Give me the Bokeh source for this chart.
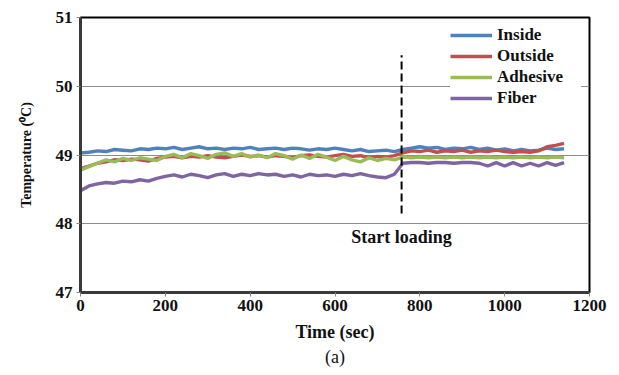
from bokeh.plotting import figure
from bokeh.models import Range1d, Legend, LegendItem, Label, Title, FixedTicker
from bokeh.embed import file_html
from bokeh.resources import INLINE

# ---- data ----
time_s = list(range(0, 1141, 20))

inside = [49.03, 49.04, 49.06, 49.05, 49.08, 49.07, 49.06, 49.09, 49.08, 49.10,
          49.09, 49.11, 49.08, 49.10, 49.12, 49.09, 49.10, 49.08, 49.10, 49.09,
          49.11, 49.08, 49.09, 49.10, 49.08, 49.10, 49.09, 49.07, 49.09, 49.08,
          49.10, 49.08, 49.06, 49.08, 49.05, 49.06, 49.07, 49.05, 49.08, 49.10,
          49.12, 49.10, 49.11, 49.08, 49.10, 49.09, 49.11, 49.08, 49.10, 49.07,
          49.09, 49.06, 49.08, 49.06, 49.07, 49.10, 49.08, 49.09]

outside = [48.80, 48.84, 48.88, 48.90, 48.93, 48.92, 48.94, 48.93, 48.91, 48.95,
           48.97, 48.98, 48.96, 48.98, 48.97, 48.99, 48.97, 48.96, 48.98, 49.00,
           48.98, 48.99, 48.97, 48.99, 48.98, 48.96, 48.99, 49.00, 48.98, 48.97,
           48.99, 49.01, 48.98, 48.99, 48.96, 48.98, 48.97, 48.99, 49.03, 49.06,
           49.05, 49.07, 49.04, 49.06, 49.05, 49.07, 49.04, 49.06, 49.05, 49.07,
           49.05, 49.04, 49.05, 49.04, 49.06, 49.12, 49.14, 49.17]

adhesive = [48.78, 48.83, 48.88, 48.93, 48.90, 48.95, 48.92, 48.96, 48.94, 48.92,
            48.98, 49.01, 48.96, 49.02, 48.99, 48.95, 49.01, 49.03, 48.98, 49.02,
            48.97, 49.00, 48.96, 49.02, 48.99, 48.94, 49.00, 48.95, 49.01, 48.97,
            48.92, 48.98, 48.93, 48.90, 48.96, 48.92, 48.95, 48.93, 48.97, 48.96,
            48.97, 48.96, 48.97, 48.96, 48.97, 48.96, 48.97, 48.96, 48.97, 48.96,
            48.97, 48.96, 48.97, 48.96, 48.97, 48.96, 48.97, 48.96]

fiber = [48.48, 48.55, 48.58, 48.60, 48.59, 48.62, 48.61, 48.64, 48.62, 48.66,
         48.69, 48.71, 48.68, 48.72, 48.70, 48.67, 48.71, 48.73, 48.69, 48.72,
         48.70, 48.73, 48.71, 48.72, 48.69, 48.71, 48.68, 48.72, 48.70, 48.71,
         48.69, 48.72, 48.70, 48.73, 48.70, 48.68, 48.67, 48.72, 48.88, 48.89,
         48.89, 48.88, 48.89, 48.89, 48.88, 48.89, 48.89, 48.88, 48.84, 48.89,
         48.84, 48.89, 48.84, 48.88, 48.84, 48.89, 48.85, 48.89]

series_names = ["Inside", "Outside", "Adhesive", "Fiber"]
series_values = [inside, outside, adhesive, fiber]
series_colors = ["#4F81BD", "#C0504D", "#9BBB59", "#8064A2"]

load_time = 757
load_line_bottom = 48.15
load_line_top = 50.45
load_text = "Start loading"
load_text_y = 47.81

x_ticks = [0, 200, 400, 600, 800, 1000, 1200]
y_ticks = [47, 48, 49, 50, 51]

FONT = "Liberation Serif"

p = figure(width=615, height=373, output_backend="svg", toolbar_location=None,
           x_range=Range1d(0, 1200), y_range=Range1d(47, 51),
           min_border_left=80, min_border_right=26, min_border_top=17,
           min_border_bottom=81)
p.background_fill_color = "white"
p.border_fill_color = "white"
p.outline_line_color = "black"
p.outline_line_width = 2

renderers = []
for name, vals, col in zip(series_names, series_values, series_colors):
    r = p.line(time_s, vals, line_color=col, line_width=3.4)
    renderers.append((name, r))

p.line([load_time, load_time], [load_line_bottom, load_line_top],
       line_color="black", line_width=2, line_dash="8 4")

lbl = Label(x=load_time, y=load_text_y, text=load_text, text_align="center",
            text_baseline="middle", text_font=FONT, text_font_style="bold",
            text_font_size="18px", text_color="#111111")
p.add_layout(lbl)

legend = Legend(items=[LegendItem(label=n, renderers=[r]) for n, r in renderers],
                location="top_right", margin=8, padding=6, spacing=1,
                glyph_width=42, label_standoff=5, label_width=84,
                label_text_font=FONT, label_text_font_style="bold",
                label_text_font_size="17px", label_text_color="#111111",
                background_fill_color="white", background_fill_alpha=1.0,
                border_line_color=None)
p.add_layout(legend)

# axes
p.xaxis.ticker = FixedTicker(ticks=x_ticks)
p.yaxis.ticker = FixedTicker(ticks=y_ticks)
for ax in (p.xaxis, p.yaxis):
    ax.axis_line_color = "#3a3a3a"
    ax.axis_line_width = 3
    ax.major_tick_in = 0
    ax.major_tick_out = 4
    ax.major_tick_line_color = "#888888"
    ax.minor_tick_line_color = None
    ax.major_label_text_font = FONT
    ax.major_label_text_font_style = "bold"
    ax.major_label_text_font_size = "17px"
    ax.major_label_text_color = "#111111"
    ax.axis_label_text_font = FONT
    ax.axis_label_text_font_style = "bold"
    ax.axis_label_text_color = "#111111"
p.xaxis.axis_label_text_font_size = "18px"
p.yaxis.axis_label_text_font_size = "14px"
p.xaxis.major_label_standoff = 3
p.yaxis.major_label_standoff = 4
p.xaxis.axis_label = "Time (sec)"
p.yaxis.axis_label = "Temperature (\u2070C)"
p.xaxis.axis_label_standoff = 8
p.yaxis.axis_label_standoff = 19

p.xgrid.grid_line_color = None
p.ygrid.ticker = FixedTicker(ticks=[48, 49, 50])
p.ygrid.grid_line_color = "#8c8c8c"
p.ygrid.grid_line_width = 1

cap = Title(text="(a)", align="center", text_font=FONT, text_font_style="normal",
            text_font_size="18px", text_color="#111111", standoff=0)
p.add_layout(cap, "below")

open("out.html", "w").write(file_html(p, INLINE))
